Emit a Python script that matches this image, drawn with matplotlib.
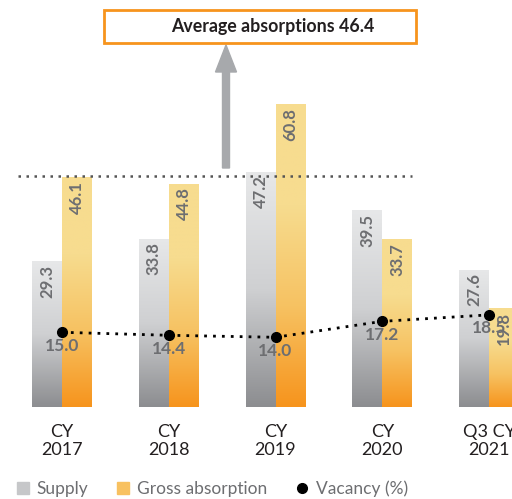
import numpy as np
import matplotlib
matplotlib.use("Agg")
import matplotlib.pyplot as plt
from matplotlib.colors import LinearSegmentedColormap
from matplotlib.patches import Rectangle, FancyArrow
from matplotlib.lines import Line2D
from matplotlib.transforms import IdentityTransform

categories = ["CY\n2017", "CY\n2018", "CY\n2019", "CY\n2020", "Q3 CY\n2021"]
supply = [29.3, 33.8, 47.2, 39.5, 27.6]
gross_absorption = [46.1, 44.8, 60.8, 33.7, 19.8]
vacancy = [15.0, 14.4, 14.0, 17.2, 18.5]
average_absorption = 46.4

plt.rcParams['font.family'] = ['Lato', 'DejaVu Sans']

W, H = 512, 499
fig = plt.figure(figsize=(W / 100, H / 100), dpi=100)
base_px = 407
scale = 4.98
ax = fig.add_axes([0, (H - base_px) / H, 1, base_px / H])

x = np.arange(len(categories))
spacing = 106.75
bw = 30 / spacing

grey_cmap = LinearSegmentedColormap.from_list("g", ["#8c8d90", "#cfd0d2", "#e7e8e9"])
orange_cmap = LinearSegmentedColormap.from_list("o", ["#f7941d", "#f6c262", "#f7dc8f", "#f7dc8f"])
grad = np.linspace(0, 1, 256).reshape(-1, 1)

b1 = ax.bar(x - bw / 2, supply, bw, facecolor="none", edgecolor="none")
b2 = ax.bar(x + bw / 2, gross_absorption, bw, facecolor="none", edgecolor="none")
for bars, cmap in ((b1, grey_cmap), (b2, orange_cmap)):
    for r in bars:
        x0, w, h = r.get_x(), r.get_width(), r.get_height()
        im = ax.imshow(grad, extent=[x0, x0 + w, 0, h], origin="lower", aspect="auto",
                       cmap=cmap, zorder=1)
        im.set_clip_path(r)

label_color = "#6d6e71"
for bars, vals in ((b1, supply), (b2, gross_absorption)):
    for r, v in zip(bars, vals):
        ax.annotate(f"{v:.1f}", (r.get_x() + r.get_width() / 2, v), xytext=(0, -2.5),
                    textcoords="offset points", rotation=90, ha="center", va="top",
                    fontsize=12, fontweight="bold", color=label_color, zorder=3)

ax.plot(x, vacancy, color="black", linestyle=(0, (1, 2.2)), linewidth=2, zorder=4)
ax.plot(x, vacancy, "o", color="black", markersize=7, zorder=5)
for xi, v in zip(x, vacancy):
    ax.annotate(f"{v:.1f}", (xi, v), xytext=(0, -4), textcoords="offset points",
                ha="center", va="top", fontsize=12.5, fontweight="bold",
                color=label_color, zorder=6)

x_left = (18 - 62) / spacing
x_right = (412 - 62) / spacing
ax.plot([x_left, x_right], [average_absorption] * 2, color="#555555",
        linestyle=(0, (1, 2.2)), linewidth=1.8, zorder=2)

ax.set_xlim(-62 / spacing, (W - 62) / spacing)
ax.set_ylim(0, base_px / scale)
ax.set_xticks(x, categories)
ax.tick_params(axis="x", length=0, pad=12, labelsize=13, labelcolor="#231f20")
ax.set_yticks([])
for s in ax.spines.values():
    s.set_visible(False)

# arrow and text box (pixel coordinates)
arrow = FancyArrow(226, H - 168, 0, 168 - 45, width=7, head_width=21, head_length=27,
                   length_includes_head=True, color="#a7a9ac", transform=IdentityTransform())
fig.patches.append(arrow)
box = Rectangle((104, H - 43), 312, 33, facecolor="white", edgecolor="#f7941d",
                linewidth=2, transform=IdentityTransform())
fig.patches.append(box)
fig.text(273 / W, 1 - 26.5 / H, f"Average absorptions {average_absorption}", ha="center",
         va="center", fontsize=12.8, fontweight="bold", color="#231f20")

handles = [
    Line2D([], [], marker="s", linestyle="none", markersize=8, color="#c6c7c9"),
    Line2D([], [], marker="s", linestyle="none", markersize=8, color="#f8c160"),
    Line2D([], [], marker="o", linestyle="none", markersize=7, color="black"),
]
fig.legend(handles, ["Supply", "Gross absorption", "Vacancy (%)"], loc="center left",
           bbox_to_anchor=(0.0, 1 - 489 / H), ncol=3, frameon=False, fontsize=12.5,
           labelcolor="#6d6e71", handlelength=0.8, handletextpad=0.4, columnspacing=1.6)

fig.savefig("out.png", dpi=100)
